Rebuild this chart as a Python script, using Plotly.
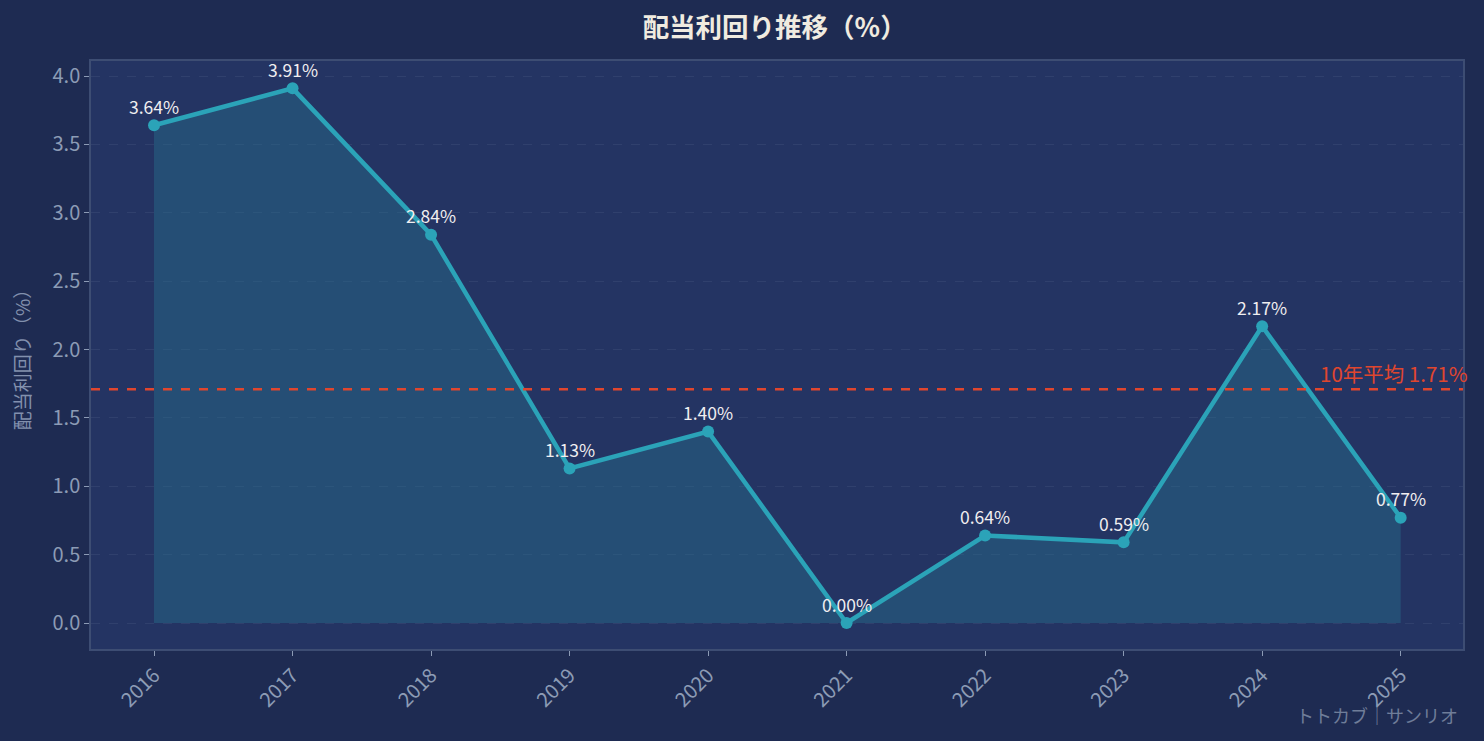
import plotly.graph_objects as go

years = [2016, 2017, 2018, 2019, 2020, 2021, 2022, 2023, 2024, 2025]
yields = [3.64, 3.91, 2.84, 1.13, 1.40, 0.00, 0.64, 0.59, 2.17, 0.77]
avg_yield = 1.71
title_text = "配当利回り推移（%）"
ylabel = "配当利回り（%）"
avg_label = "10年平均 1.71%"
watermark = "トトカブ｜サンリオ"
ytick_vals = [0, 0.5, 1.0, 1.5, 2.0, 2.5, 3.0, 3.5, 4.0]

FONT = "Noto Sans CJK JP"
BG = "#1e2b52"
PLOT_BG = "#243463"
LINE = "#2ba3b8"
FILL = "rgba(41,110,140,0.45)"
RED = "#e0462e"
TICK = "#8c9bb5"
SPINE = "#3d4d73"

fig = go.Figure()

fig.add_trace(go.Scatter(
    x=years, y=yields, mode="lines", fill="tozeroy",
    fillcolor=FILL, line=dict(color="rgba(43,120,150,0.5)", width=1),
    hoverinfo="skip", showlegend=False))

fig.add_trace(go.Scatter(
    x=years, y=yields, mode="lines+markers",
    line=dict(color=LINE, width=4.5),
    marker=dict(color=LINE, size=12),
    showlegend=False))

fig.add_shape(type="line", xref="paper", x0=0, x1=1, yref="y", y0=avg_yield, y1=avg_yield,
              line=dict(color=RED, width=2.5, dash="dash"))

for xv, yv in zip(years, yields):
    fig.add_annotation(x=xv, y=yv, text=f"{yv:.2f}%", showarrow=False,
                       yshift=19, font=dict(family=FONT, size=17.5, color="#f0eef0"))

fig.add_annotation(xref="paper", x=1.005, xanchor="right", yref="y", y=avg_yield,
                   yanchor="bottom", yshift=-1, text=avg_label, showarrow=False,
                   font=dict(family=FONT, size=20.5, color=RED))

fig.add_annotation(xref="paper", yref="paper", x=0.998, y=-0.112, xanchor="right",
                   yanchor="middle", text=watermark, showarrow=False,
                   font=dict(family=FONT, size=18, color="#6f7d99"))

fig.update_layout(
    width=1484, height=741,
    paper_bgcolor=BG, plot_bgcolor=PLOT_BG,
    margin=dict(l=91, r=21, t=61, b=92),
    title=dict(text=f"<b>{title_text}</b>", xref="container", x=0.522, xanchor="center",
               y=0.963, yanchor="middle",
               font=dict(family=FONT, size=26.5, color="#f0ebe0")),
    font=dict(family=FONT, color=TICK),
    xaxis=dict(range=[2015.545, 2025.45], tickmode="array", tickvals=years,
               ticktext=[str(y) for y in years], tickangle=-45,
               tickfont=dict(family=FONT, size=20, color=TICK),
               ticks="outside", ticklen=5, tickcolor=TICK, showgrid=False, zeroline=False,
               showline=True, linecolor=SPINE, linewidth=1.5, mirror=True),
    yaxis=dict(range=[-0.19, 4.11], tickmode="array",
               tickvals=ytick_vals,
               ticktext=[f"{v:.1f}" for v in ytick_vals],
               tickfont=dict(family=FONT, size=20, color=TICK),
               ticks="outside", ticklen=5, tickcolor=TICK,
               showgrid=True, gridcolor="rgba(140,155,181,0.12)", griddash="dash", gridwidth=1,
               zeroline=False, showline=True, linecolor=SPINE, linewidth=1.5, mirror=True,
               title=dict(text=ylabel, font=dict(family=FONT, size=19, color="#8290ad"), standoff=17)),
)

fig.write_html("out.html", config={"displayModeBar": False})
with open("out.html", "r", encoding="utf-8") as f:
    html = f.read()
html = html.replace("<head>", "<head><style>html,body{margin:0;padding:0;overflow:hidden;}</style>", 1)
with open("out.html", "w", encoding="utf-8") as f:
    f.write(html)
